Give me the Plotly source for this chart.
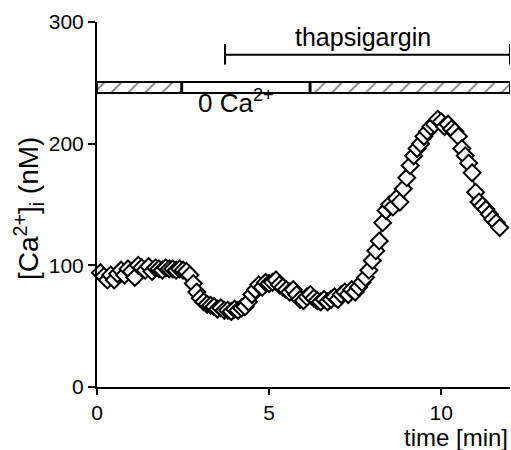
import plotly.graph_objects as go

# time (min) and [Ca2+]i (nM)
time_min = [round(0.1 * i, 1) for i in range(1, 118)]
ca_nM = [94, 91, 88, 92, 88, 93, 96, 92, 97, 95,
         90, 100, 98, 96, 99, 95, 98, 97, 96, 98,
         97, 97, 96, 97, 96, 95, 92, 85, 78, 73,
         70, 68, 67, 66, 64, 65, 63, 63, 62, 64,
         63, 65, 66, 70, 76, 80, 84, 82, 86, 85,
         86, 88, 84, 82, 80, 78, 80, 76, 72, 71,
         74, 76, 73, 71, 70, 72, 70, 72, 74, 72,
         76, 78, 76, 80, 78, 82, 86, 90, 96, 104,
         112, 120, 135, 145, 150, 148, 155, 152, 163, 172,
         182, 190, 196, 200, 206, 210, 214, 216, 220, 218,
         214, 216, 212, 210, 206, 196, 190, 184, 176, 160,
         152, 149, 146, 142, 138, 135, 131]

x_ticks = [0, 5, 10]
y_ticks = [0, 100, 200, 300]

# solution bar segments (start, end, hatched?)
seg_start = [0.0, 2.46, 6.19]
seg_end = [2.46, 6.19, 12.0]
seg_hatched = [True, False, True]
bar_low, bar_high = 242, 251

# thapsigargin bracket
tg_start, tg_end, tg_y = 3.72, 12.0, 273

fig = go.Figure()

for s, e, h in zip(seg_start, seg_end, seg_hatched):
    fig.add_trace(go.Bar(
        x=[(s + e) / 2], y=[bar_high - bar_low], base=[bar_low], width=[e - s],
        marker=dict(color="white", line=dict(color="black", width=2),
                    pattern=dict(shape="/" if h else "", fgcolor="black",
                                 bgcolor="white", size=12, solidity=0.15)),
        showlegend=False, hoverinfo="skip"))

fig.add_trace(go.Scatter(
    x=time_min, y=ca_nM, mode="lines+markers",
    line=dict(color="black", width=1.5),
    marker=dict(symbol="diamond", size=13, color="white",
                line=dict(color="black", width=2)),
    showlegend=False, cliponaxis=False))

# bracket
fig.add_shape(type="line", x0=tg_start, x1=tg_end, y0=tg_y, y1=tg_y,
              line=dict(color="black", width=2))
fig.add_shape(type="line", x0=tg_start, x1=tg_start, y0=tg_y - 8, y1=tg_y + 9,
              line=dict(color="black", width=2))
fig.add_shape(type="line", x0=tg_end, x1=tg_end, y0=tg_y - 8, y1=tg_y + 9,
              line=dict(color="black", width=2))
for b in seg_start[1:]:
    fig.add_shape(type="line", x0=b, x1=b, y0=bar_low, y1=bar_high,
                  line=dict(color="black", width=3))

font = "Liberation Sans, Arial, sans-serif"
fig.add_annotation(x=7.73, y=287.6, text="thapsigargin", showarrow=False,
                   font=dict(size=25, color="black", family=font))
fig.add_annotation(x=4.05, y=235, text="0 Ca<sup>2+</sup>", showarrow=False,
                   font=dict(size=26, color="black", family=font))
fig.add_annotation(xref="paper", yref="paper", x=1.0, y=-0.137, xanchor="right",
                   yanchor="middle", text="time [min]", showarrow=False,
                   font=dict(size=24, color="black", family=font))
fig.add_annotation(xref="paper", yref="paper", x=-0.165, y=0.49, textangle=-90,
                   xanchor="center", yanchor="middle",
                   text="[Ca<sup>2+</sup>]<sub>i</sub> (nM)", showarrow=False,
                   font=dict(size=28, color="black", family=font))

fig.update_layout(
    width=511, height=450, plot_bgcolor="white", paper_bgcolor="white",
    margin=dict(l=97, r=1, t=22, b=63), barmode="overlay", bargap=0,
    font=dict(family=font, size=21, color="black"),
    xaxis=dict(range=[0, 12], tickvals=x_ticks, showline=True, linecolor="black",
               linewidth=2, ticks="outside", ticklen=6, tickwidth=2,
               tickcolor="black", showgrid=False, zeroline=False),
    yaxis=dict(range=[0, 300], tickvals=y_ticks, showline=True, linecolor="black",
               linewidth=2, ticks="outside", ticklen=7, tickwidth=2,
               tickcolor="black", showgrid=False, zeroline=False),
)

fig.write_html("out.html", config={"displayModeBar": False},
               post_script="document.body.style.margin='0';")
